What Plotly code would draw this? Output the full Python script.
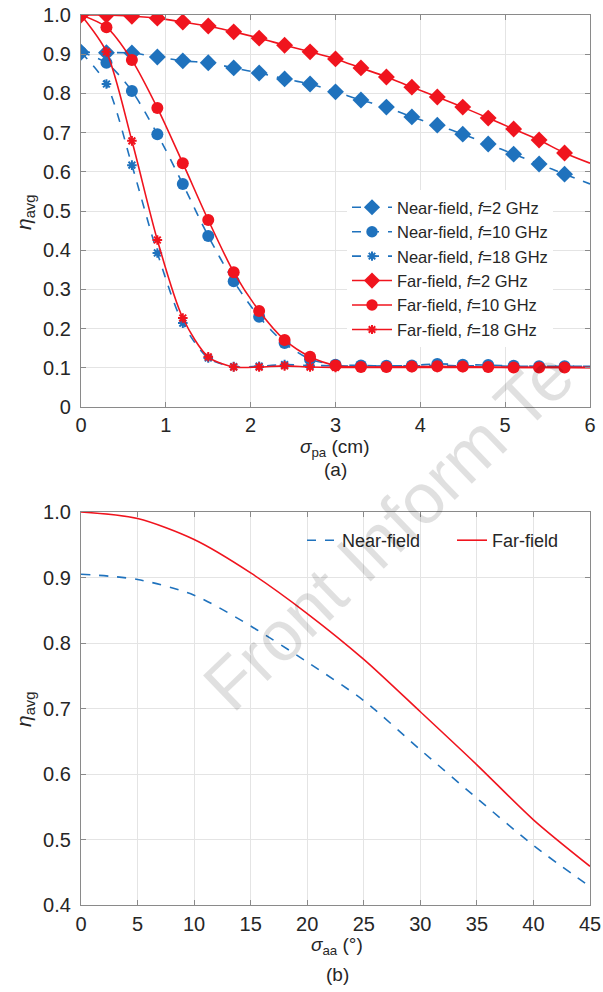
import plotly.graph_objects as go

# ---------------- data: panel (a) ----------------
sigma_pa = [0, 0.3, 0.6, 0.9, 1.2, 1.5, 1.8, 2.1, 2.4, 2.7, 3.0, 3.3, 3.6, 3.9, 4.2, 4.5, 4.8, 5.1, 5.4, 5.7, 6.0]
near_2 = [0.905, 0.904, 0.903, 0.893, 0.883, 0.878, 0.865, 0.852, 0.837, 0.824, 0.804, 0.783, 0.765, 0.740, 0.719, 0.696, 0.671, 0.645, 0.620, 0.594, 0.569]
near_10 = [0.905, 0.878, 0.806, 0.696, 0.569, 0.436, 0.321, 0.230, 0.163, 0.122, 0.108, 0.106, 0.105, 0.106, 0.110, 0.108, 0.107, 0.105, 0.104, 0.104, 0.104]
near_18 = [0.905, 0.824, 0.617, 0.393, 0.214, 0.125, 0.103, 0.104, 0.108, 0.106, 0.105, 0.104, 0.105, 0.105, 0.106, 0.105, 0.105, 0.104, 0.104, 0.104, 0.104]
far_2 = [1.0, 1.0, 0.997, 0.992, 0.982, 0.972, 0.957, 0.941, 0.923, 0.906, 0.888, 0.865, 0.842, 0.816, 0.791, 0.765, 0.737, 0.709, 0.681, 0.648, 0.622]
far_10 = [1.0, 0.969, 0.885, 0.763, 0.622, 0.477, 0.344, 0.245, 0.171, 0.128, 0.106, 0.102, 0.102, 0.103, 0.104, 0.103, 0.102, 0.101, 0.101, 0.101, 0.100]
far_18 = [1.0, 0.906, 0.679, 0.426, 0.227, 0.128, 0.102, 0.102, 0.105, 0.102, 0.101, 0.101, 0.101, 0.101, 0.101, 0.101, 0.101, 0.101, 0.101, 0.101, 0.101]

# ---------------- data: panel (b) ----------------
sigma_aa = [0, 5, 10, 15, 20, 25, 30, 35, 40, 45]
near_b = [0.905, 0.897, 0.873, 0.826, 0.771, 0.712, 0.637, 0.563, 0.491, 0.428]
far_b = [1.0, 0.990, 0.958, 0.907, 0.845, 0.775, 0.695, 0.614, 0.530, 0.459]

ya_ticks = [0, 0.1, 0.2, 0.3, 0.4, 0.5, 0.6, 0.7, 0.8, 0.9, 1.0]
ya_text = ["0", "0.1", "0.2", "0.3", "0.4", "0.5", "0.6", "0.7", "0.8", "0.9", "1.0"]
yb_ticks = [0.4, 0.5, 0.6, 0.7, 0.8, 0.9, 1.0]
yb_text = ["0.4", "0.5", "0.6", "0.7", "0.8", "0.9", "1.0"]

BLUE = "#1f72bd"
RED = "#f0141e"
FONT = "Liberation Sans, Arial, sans-serif"

n = len(sigma_pa)

def msizes(s):
    return [s] * (n - 1) + [0]

fig = go.Figure()

series = [
    ("Near-field, <i>f</i>=2 GHz", near_2, BLUE, "dash", "diamond", 13),
    ("Near-field, <i>f</i>=10 GHz", near_10, BLUE, "dash", "circle", 12),
    ("Near-field, <i>f</i>=18 GHz", near_18, BLUE, "dash", "asterisk-open", 8),
    ("Far-field, <i>f</i>=2 GHz", far_2, RED, "solid", "diamond", 13),
    ("Far-field, <i>f</i>=10 GHz", far_10, RED, "solid", "circle", 12),
    ("Far-field, <i>f</i>=18 GHz", far_18, RED, "solid", "asterisk-open", 8),
]
for name, vals, col, dash, sym, sz in series:
    fig.add_trace(go.Scatter(
        x=sigma_pa, y=vals, name=name, mode="lines+markers",
        line=dict(color=col, width=1.6, dash=dash, shape="spline", smoothing=0.8),
        marker=dict(symbol=sym, size=msizes(sz), color=col, opacity=1,
                    line=dict(color=col, width=2 if "asterisk" in sym else 0)),
        xaxis="x", yaxis="y", legend="legend",
    ))

fig.add_trace(go.Scatter(
    x=sigma_aa, y=near_b, name="Near-field", mode="lines",
    line=dict(color=BLUE, width=1.6, dash="dash", shape="spline", smoothing=0.8),
    xaxis="x2", yaxis="y2", legend="legend2",
))
fig.add_trace(go.Scatter(
    x=sigma_aa, y=far_b, name="Far-field", mode="lines",
    line=dict(color=RED, width=1.6, shape="spline", smoothing=0.8),
    xaxis="x2", yaxis="y2", legend="legend2",
))

axis_common = dict(
    showline=True, linecolor="#8a8a8a", linewidth=1.2, mirror="ticks",
    ticks="inside", ticklen=5, tickcolor="#8a8a8a",
    showgrid=True, gridcolor="#e4e4e4", gridwidth=1,
    zeroline=False, automargin=False,
    tickfont=dict(family=FONT, size=20, color="#262626"),
)

W, H = 603, 992
L, R, T, B = 81, 13, 15, 87
PH = H - T - B

def py(px):
    return (H - B - px) / PH

def px_(x):
    return (x - L) / (W - L - R)

fig.update_layout(
    width=W, height=H,
    margin=dict(l=L, r=R, t=T, b=B, autoexpand=False),
    paper_bgcolor="white", plot_bgcolor="white",
    font=dict(family=FONT, size=16, color="#262626"),
    xaxis=dict(axis_common, domain=[0, 1], range=[0, 6], tickvals=[0, 1, 2, 3, 4, 5, 6], anchor="y", ticklabelstandoff=0),
    yaxis=dict(axis_common, domain=[py(407), py(15)], range=[0, 1.0], tickvals=ya_ticks, ticktext=ya_text, anchor="x", ticklabelstandoff=5),
    xaxis2=dict(axis_common, domain=[0, 1], range=[0, 45], tickvals=sigma_aa, anchor="y2", ticklabelstandoff=1),
    yaxis2=dict(axis_common, domain=[py(905), py(512)], range=[0.4, 1.0], tickvals=yb_ticks, ticktext=yb_text, anchor="x2", ticklabelstandoff=5),
    legend=dict(
        x=px_(347), y=py(190), xanchor="left", yanchor="top",
        bgcolor="white", borderwidth=0, font=dict(family=FONT, size=16.5, color="#262626"),
        tracegroupgap=0, itemwidth=40,
    ),
    legend2=dict(
        orientation="h", x=px_(302), y=py(522), xanchor="left", yanchor="top",
        bgcolor="rgba(255,255,255,0)", borderwidth=0, entrywidth=105,
        font=dict(family=FONT, size=18, color="#262626"),
    ),
    showlegend=True,
)

def a(text, x, y, size=19, **kw):
    return dict(text=text, x=x, y=y, xref="paper", yref="paper", showarrow=False,
                xanchor="center", yanchor="middle", font=dict(size=size), **kw)

ann = [
    a("<i>σ</i><sub>pa</sub> (cm)", px_(335), py(448)),
    a("(a)", px_(335), py(469)),
    a("<i>η</i><sub>avg</sub>", px_(25), py(213), size=21, textangle=-90),
    a("<i>σ</i><sub>aa</sub> (°)", px_(337), py(946)),
    a("(b)", px_(337), py(974)),
    a("<i>η</i><sub>avg</sub>", px_(25), py(710), size=21, textangle=-90),
    dict(text="Front Inform Te", x=px_(388), y=py(530), xref="paper", yref="paper", showarrow=False,
         xanchor="center", yanchor="middle", textangle=-44,
         font=dict(size=71, color="rgba(0,0,0,0.12)")),
]
fig.update_layout(annotations=ann)

fig.write_html("out.html", config={"displayModeBar": False},
               post_script="document.body.style.margin='0';document.body.style.overflow='hidden';")
